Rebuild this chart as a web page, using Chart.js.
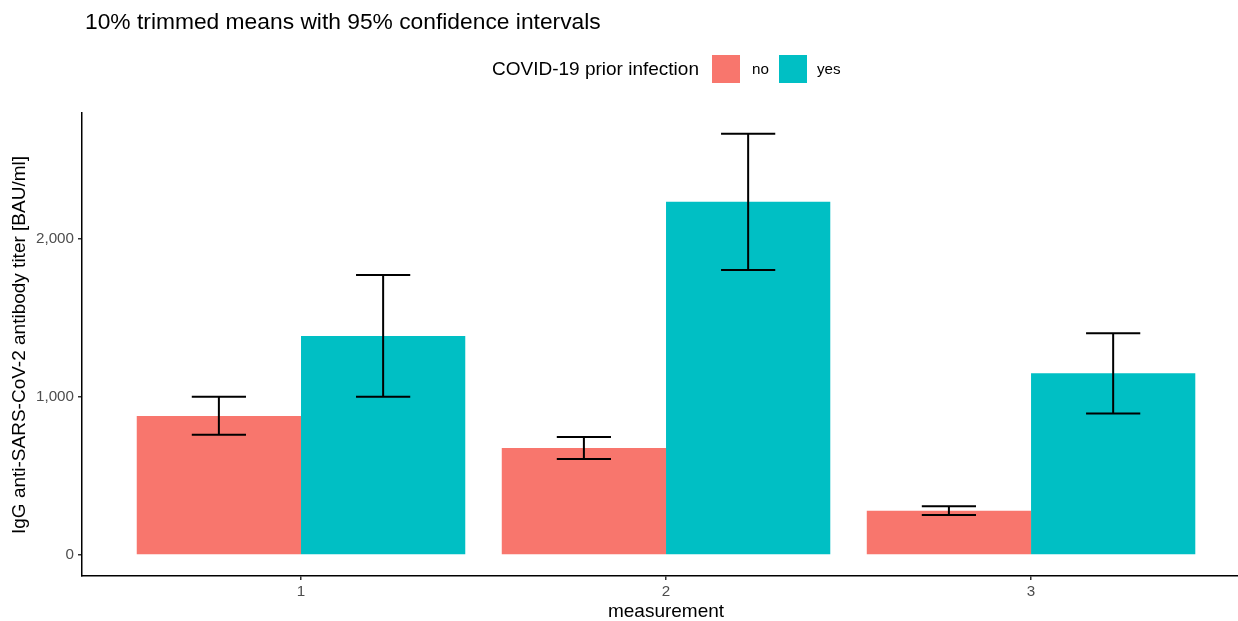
<!DOCTYPE html>
<html>
<head>
<meta charset="utf-8">
<style>
  html, body { margin: 0; padding: 0; background: #ffffff; overflow: hidden; }
  #wrap { width: 1238px; height: 621px; position: relative; }
</style>
<script src="https://cdn.jsdelivr.net/npm/chart.js@4/dist/chart.umd.min.js"></script>
</head>
<body>
<div id="wrap"><canvas id="chart" width="1238" height="621"></canvas></div>
<script>
// Measurement rounds and 10% trimmed means (BAU/ml) with 95% CI bounds
const categories = [1, 2, 3];
const noMean  = [878, 676, 280];
const noLower = [760, 606, 253];
const noUpper = [1000, 745, 308];
const yesMean  = [1383, 2232, 1148];
const yesLower = [1000, 1800, 893];
const yesUpper = [1768, 2661, 1400];
const yTicks = [0, 1000, 2000];
const seriesNames = ['no', 'yes'];

const FONT = '"Liberation Sans", Arial, Helvetica, sans-serif';
const COLORS = ['#F8766D', '#00BFC4'];
const intervals = [
  { lower: noLower, upper: noUpper },
  { lower: yesLower, upper: yesUpper }
];

// Error bars drawn over each bar from the CI arrays
const errorBars = {
  id: 'errorBars',
  afterDatasetsDraw(chart) {
    const ctx = chart.ctx;
    const y = chart.scales.y;
    ctx.save();
    ctx.strokeStyle = '#000000';
    ctx.lineWidth = 2;
    chart.data.datasets.forEach((ds, i) => {
      const meta = chart.getDatasetMeta(i);
      meta.data.forEach((bar, j) => {
        const cx = bar.x;
        const half = bar.width * 0.165;
        const yLo = y.getPixelForValue(intervals[i].lower[j]);
        const yHi = y.getPixelForValue(intervals[i].upper[j]);
        ctx.beginPath();
        ctx.moveTo(cx, yLo); ctx.lineTo(cx, yHi);
        ctx.moveTo(cx - half, yLo); ctx.lineTo(cx + half, yLo);
        ctx.moveTo(cx - half, yHi); ctx.lineTo(cx + half, yHi);
        ctx.stroke();
      });
    });
    ctx.restore();
  }
};

// Title, legend and axis titles
const decorations = {
  id: 'decorations',
  afterDraw(chart) {
    const ctx = chart.ctx;
    ctx.save();
    ctx.fillStyle = '#000000';
    ctx.textBaseline = 'alphabetic';
    ctx.textAlign = 'left';
    ctx.font = '22.8px ' + FONT;
    ctx.fillText('10% trimmed means with 95% confidence intervals', 85, 29);

    // legend
    ctx.font = '19px ' + FONT;
    ctx.textBaseline = 'middle';
    ctx.fillText('COVID-19 prior infection', 492, 70);
    const swX = [712, 779];
    const lblX = [752, 817];
    ctx.font = '15.2px ' + FONT;
    chart.data.datasets.forEach((ds, i) => {
      ctx.fillStyle = ds.backgroundColor;
      ctx.fillRect(swX[i], 55, 28, 28);
      ctx.fillStyle = '#000000';
      ctx.fillText(ds.label, lblX[i], 70);
    });

    // axis titles
    ctx.font = '19px ' + FONT;
    ctx.textAlign = 'center';
    ctx.fillText('measurement', 666, 612);
    ctx.translate(20, 345);
    ctx.rotate(-Math.PI / 2);
    ctx.fillText('IgG anti-SARS-CoV-2 antibody titer [BAU/ml]', 0, 0);
    ctx.restore();
  }
};

new Chart(document.getElementById('chart'), {
  type: 'bar',
  data: {
    datasets: [
      {
        label: seriesNames[0],
        data: categories.map((c, i) => ({ x: c, y: noMean[i] })),
        backgroundColor: COLORS[0],
        borderWidth: 0
      },
      {
        label: seriesNames[1],
        data: categories.map((c, i) => ({ x: c, y: yesMean[i] })),
        backgroundColor: COLORS[1],
        borderWidth: 0
      }
    ]
  },
  options: {
    responsive: false,
    animation: false,
    devicePixelRatio: 1,
    categoryPercentage: 0.9,
    barPercentage: 1.0,
    layout: { padding: { top: 113, left: 0, right: 0, bottom: 0 } },
    plugins: {
      legend: { display: false },
      title: { display: false },
      tooltip: { enabled: false }
    },
    scales: {
      x: {
        type: 'linear',
        position: 'bottom',
        offset: false,
        min: 0.4,
        max: 3.567,
        afterBuildTicks(scale) { scale.ticks = categories.map(v => ({ value: v })); },
        afterFit(scale) { scale.height = 45; },
        border: { display: true, color: '#000000', width: 1.5 },
        grid: { display: true, offset: false, drawOnChartArea: false, drawTicks: true, tickLength: 4, color: '#333333', lineWidth: 1.5 },
        ticks: {
          padding: 3,
          color: '#4D4D4D',
          font: { family: FONT, size: 15.2 },
          callback: v => String(v)
        }
      },
      y: {
        type: 'linear',
        position: 'left',
        min: -132.7,
        max: 2792,
        afterBuildTicks(scale) { scale.ticks = yTicks.map(v => ({ value: v })); },
        afterFit(scale) { scale.width = 82; },
        border: { display: true, color: '#000000', width: 1.5 },
        grid: { display: true, drawOnChartArea: false, drawTicks: true, tickLength: 4, color: '#333333', lineWidth: 1.5 },
        ticks: {
          padding: 4,
          color: '#4D4D4D',
          font: { family: FONT, size: 15.2 },
          callback: v => v.toLocaleString('en-US')
        }
      }
    }
  },
  plugins: [errorBars, decorations]
});
</script>
</body>
</html>
